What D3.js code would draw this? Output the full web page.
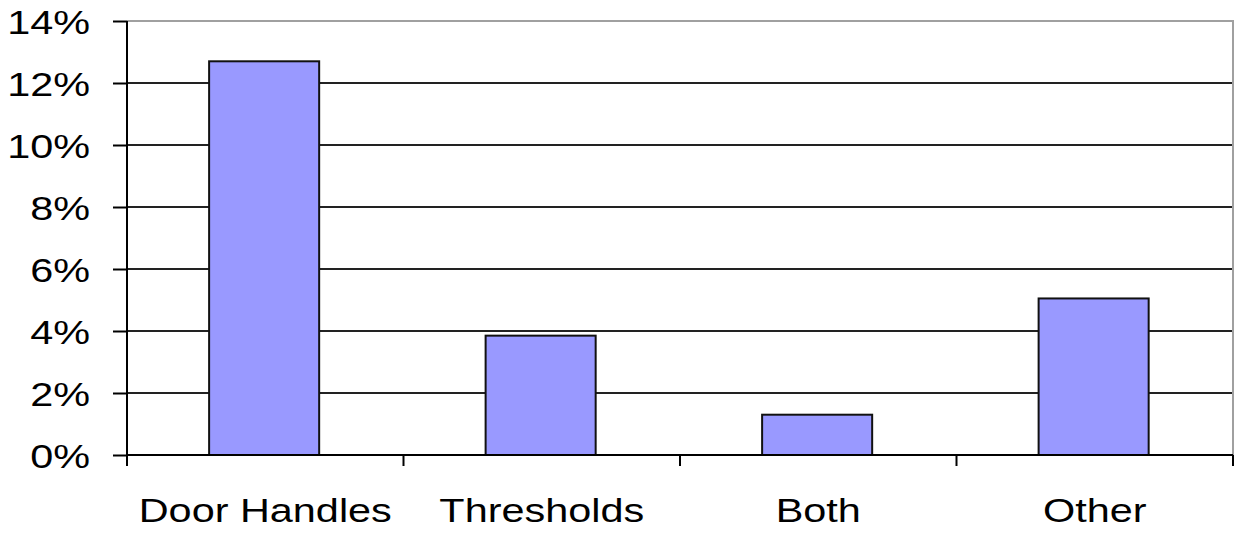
<!DOCTYPE html>
<html>
<head>
<meta charset="utf-8">
<script src="https://cdn.jsdelivr.net/npm/d3@7"></script>
<style>
html,body{margin:0;padding:0;background:#fff;}
svg{display:block;}
text{font-family:"Liberation Sans",Arial,sans-serif;}
</style>
</head>
<body>
<svg id="chart" width="1235" height="535"></svg>
<script>
const categories = ["Door Handles", "Thresholds", "Both", "Other"];
const values = [12.7, 3.85, 1.3, 5.05];
const yTicks = [0, 2, 4, 6, 8, 10, 12, 14];

const plotL = 127, plotR = 1233, plotT = 21, plotB = 455;
const sx = 1.27;

const svg = d3.select("#chart");
const x = d3.scaleBand().domain(categories).range([plotL, plotR]).padding(0);
const y = d3.scaleLinear().domain([0, 14]).range([plotB, plotT]);

// gridlines
svg.append("g").selectAll("line").data(yTicks.filter(t => t > 0 && t < 14)).join("line")
  .attr("x1", plotL).attr("x2", plotR)
  .attr("y1", d => y(d)).attr("y2", d => y(d))
  .attr("stroke", "#222").attr("stroke-width", 2);

// plot border top & right (gray)
svg.append("path")
  .attr("d", `M${plotL},${y(14)}H${plotR}V${plotB}`)
  .attr("fill", "none").attr("stroke", "#a0a0a0").attr("stroke-width", 2);

// bars
svg.append("g").selectAll("rect").data(categories).join("rect")
  .attr("x", d => x(d) + x.bandwidth() * 0.297)
  .attr("width", x.bandwidth() * 0.398)
  .attr("y", (d, i) => y(values[i]))
  .attr("height", (d, i) => y(0) - y(values[i]))
  .attr("fill", "#9999ff").attr("stroke", "#111").attr("stroke-width", 2);

// y axis
const yAxis = d3.axisLeft(y).tickValues(yTicks).tickFormat(d => d + "%").tickSize(14);
const gy = svg.append("g").attr("transform", `translate(${plotL},0)`).call(yAxis);
gy.select(".domain").attr("stroke", "#000").attr("stroke-width", 2).attr("d", `M0,${plotB}V${plotT}`);
gy.selectAll(".tick line").attr("stroke", "#000").attr("stroke-width", 2);
gy.selectAll(".tick text")
  .attr("x", -37 / sx).attr("dy", null).attr("y", 12)
  .attr("transform", `scale(${sx},1)`)
  .attr("font-size", 32.6).attr("fill", "#000")
  .attr("font-family", "'Liberation Sans',Arial,sans-serif");

// x axis
const xEdges = d3.range(categories.length + 1).map(i => plotL + i * x.step());
const gx = svg.append("g");
gx.append("line").attr("x1", plotL).attr("x2", plotR).attr("y1", plotB).attr("y2", plotB)
  .attr("stroke", "#000").attr("stroke-width", 2);
gx.selectAll("line.tk").data(xEdges).join("line").attr("class", "tk")
  .attr("x1", d => d).attr("x2", d => d).attr("y1", plotB).attr("y2", plotB + 11)
  .attr("stroke", "#000").attr("stroke-width", 2);
gx.selectAll("text").data(categories).join("text")
  .attr("transform", d => `translate(${x(d) + x.bandwidth() / 2},522) scale(${sx},1)`)
  .attr("text-anchor", "middle")
  .attr("font-size", 32.6).attr("fill", "#000")
  .text(d => d);
</script>
</body>
</html>
